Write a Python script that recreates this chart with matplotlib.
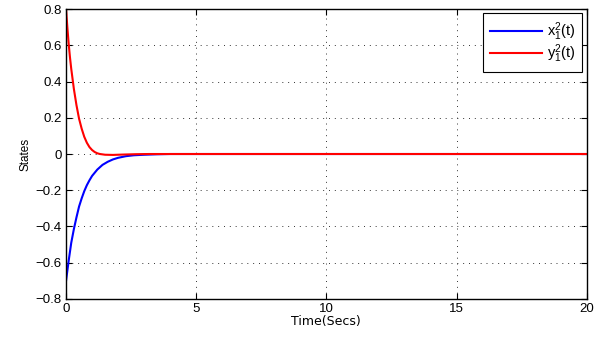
import matplotlib
matplotlib.use("Agg")
import matplotlib.pyplot as plt

plt.rcParams['font.family'] = ['Liberation Sans', 'DejaVu Sans']
plt.rcParams['mathtext.fontset'] = 'custom'
plt.rcParams['mathtext.rm'] = 'Liberation Sans'
plt.rcParams['mathtext.it'] = 'Liberation Sans'

# values
t_x = [0, 0.1, 0.2, 0.3, 0.4, 0.5, 0.6, 0.7, 0.8, 0.9, 1.0, 1.2, 1.4, 1.6, 1.8,
       2.0, 2.3, 2.6, 3.0, 3.5, 4.0, 20]
x1 = [-0.70, -0.59, -0.49, -0.415, -0.35, -0.29, -0.245, -0.205, -0.172, -0.145,
      -0.121, -0.086, -0.060, -0.043, -0.030, -0.021, -0.012, -0.007, -0.004,
      -0.0015, 0.0, 0.0]

t_y = [0, 0.05, 0.1, 0.15, 0.2, 0.25, 0.3, 0.4, 0.5, 0.6, 0.7, 0.8, 0.9, 1.0,
       1.1, 1.2, 1.3, 1.5, 1.8, 2.2, 2.7, 3.2, 20]
y1 = [0.80, 0.70, 0.61, 0.535, 0.47, 0.415, 0.36, 0.27, 0.195, 0.14, 0.095, 0.062,
      0.038, 0.022, 0.011, 0.004, 0.0, -0.004, -0.005, -0.003, -0.001, 0.0, 0.0]

xticks = [0, 5, 10, 15, 20]
yticks = [-0.8, -0.6, -0.4, -0.2, 0, 0.2, 0.4, 0.6, 0.8]
ytick_labels = ['\u22120.8', '\u22120.6', '\u22120.4', '\u22120.2', '0', '0.2', '0.4', '0.6', '0.8']

fig = plt.figure(figsize=(5.95, 3.37), dpi=100)
ax = fig.add_axes([0.111, 0.113, 0.875, 0.86])

ax.plot(t_x, x1, color='#0000ff', lw=1.5, label=r'$\mathregular{x_1^2}$(t)')
ax.plot(t_y, y1, color='#ff0000', lw=1.5, label=r'$\mathregular{y_1^2}$(t)')

ax.set_xlim(0, 20)
ax.set_ylim(-0.8, 0.8)
ax.set_xticks(xticks)
ax.set_xticklabels([str(v) for v in xticks])
ax.set_yticks(yticks)
ax.set_yticklabels(ytick_labels)
ax.tick_params(direction='in', top=True, right=True, labelsize=9.5, length=4, width=0.8, pad=3)
ax.grid(True, linestyle=(0, (1, 5)), color='#333333', lw=0.7)
for s in ax.spines.values():
    s.set_linewidth(1.0)

ax.set_xlabel('Time(Secs)', fontsize=9, labelpad=0, family=['DejaVu Sans'])
ax.set_ylabel('States', fontsize=8.5, labelpad=3)

leg = ax.legend(loc='upper right', fontsize=10.5, fancybox=False, framealpha=1,
                edgecolor='black', handlelength=3.6, handletextpad=0.35,
                borderaxespad=0.3, borderpad=0.45, labelspacing=0.0)
leg.get_frame().set_linewidth(0.8)

fig.savefig('out.png', dpi=100)
